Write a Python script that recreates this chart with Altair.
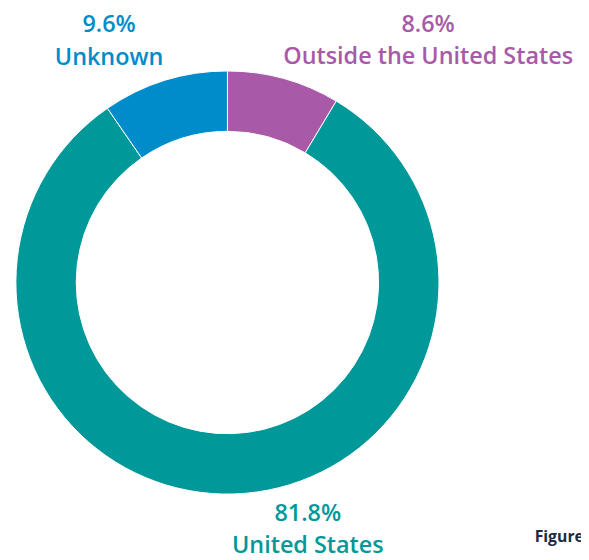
import altair as alt
import pandas as pd

categories = ["Outside the United States", "United States", "Unknown"]
values = [8.6, 81.8, 9.6]
colors = ["#A85AA8", "#009899", "#008BCB"]
order = [0, 1, 2]

df = pd.DataFrame({"cat": categories, "val": values, "ord": order,
                   "pct": [f"{v}%" for v in values]})

CX, CY = 222.5, 274.5
FONT = "Open Sans"
FS = 23.7

arc = alt.Chart(df).mark_arc(outerRadius=214.5, innerRadius=153.3, stroke="white", strokeWidth=1).encode(
    theta=alt.Theta("val:Q", stack=True),
    order=alt.Order("ord:Q"),
    color=alt.Color("cat:N", scale=alt.Scale(domain=categories, range=colors), legend=None),
    x=alt.value(CX), y=alt.value(CY),
)

label_pos = {
    "Unknown": (102.5, 20, 54),
    "Outside the United States": (426, 20, 53),
    "United States": (304, 516, 549),
}

layers = [arc]
for cat, col in zip(categories, colors):
    lx, y1, y2 = label_pos[cat]
    sub = df[df.cat == cat]
    layers.append(alt.Chart(sub).mark_text(font=FONT, fontSize=FS, fontWeight=600, color=col,
                                            align="center", baseline="alphabetic").encode(
        text="pct:N", x=alt.value(lx), y=alt.value(y1)))
    layers.append(alt.Chart(sub).mark_text(font=FONT, fontSize=FS, fontWeight=600, color=col,
                                            align="center", baseline="alphabetic").encode(
        text="cat:N", x=alt.value(lx), y=alt.value(y2)))

fig = alt.Chart(pd.DataFrame({"t": ["Figure"]})).mark_text(
    font=FONT, fontSize=16, fontWeight="bold", color="#1B2A47", align="left", baseline="alphabetic"
).encode(text="t:N", x=alt.value(534), y=alt.value(538))
layers.append(fig)

chart = alt.layer(*layers).properties(
    width=581, height=552, autosize=alt.AutoSizeParams(type="none"), padding=0
).configure_view(stroke=None)

chart.save("out.html", embed_options={"renderer": "svg", "actions": False})
